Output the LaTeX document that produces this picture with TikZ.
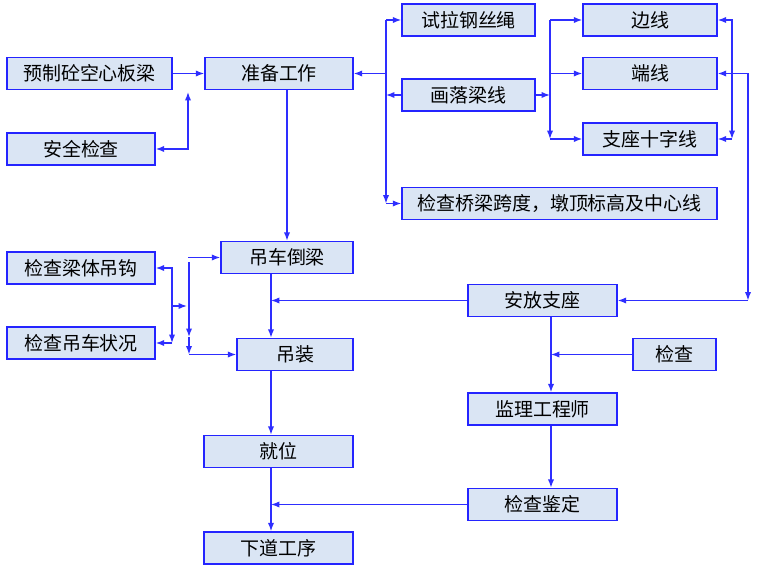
\documentclass[tikz,border=0pt]{standalone}
\usepackage{fontspec}
\newfontfamily\cjk{Noto Sans CJK SC}
\usetikzlibrary{arrows.meta}
\definecolor{boxfill}{HTML}{DAE5F4}
\definecolor{boxline}{HTML}{2424FF}
\definecolor{flowline}{HTML}{2E2EFF}

\begin{document}
\begin{tikzpicture}[x=0.025cm, y=-0.025cm, >={Latex[length=6pt,width=4.5pt]}]
        \tikzstyle{flow_box}  = [shape = rectangle, draw = boxline, fill = boxfill, line width=1pt,
                                 minimum height=8mm, inner sep=0pt, font=\cjk\fontsize{13.5}{16}\selectfont]
        \tikzstyle{flow_line} = [color = flowline, line width=1pt]

        \useasboundingbox (0,0) rectangle (760,570);

        % left column
        \node[flow_box, minimum width=41.25mm] at ( 89.5,  73.5) (yz) {预制砼空心板梁};
        \node[flow_box, minimum width=37mm]    at ( 81.0, 149.0) (aq) {安全检查};
        \node[flow_box, minimum width=37mm]    at ( 81.0, 268.0) (lg) {检查梁体吊钩};
        \node[flow_box, minimum width=37mm]    at ( 81.0, 343.0) (dc) {检查吊车状况};

        % main column
        \node[flow_box, minimum width=37mm]    at (279.0,  73.5) (zb) {准备工作};
        \node[flow_box, minimum width=33mm]    at (287.0, 257.5) (dl) {吊车倒梁};
        \node[flow_box, minimum width=29mm]    at (295.0, 354.5) (dz) {吊装};
        \node[flow_box, minimum width=37.25mm] at (278.5, 451.5) (jw) {就位};
        \node[flow_box, minimum width=37.25mm] at (278.5, 548.0) (xd) {下道工序};

        % preparation branch
        \node[flow_box, minimum width=33.25mm] at (468.5,  20.0) (sl) {试拉钢丝绳};
        \node[flow_box, minimum width=33.25mm] at (468.5,  95.0) (hl) {画落梁线};
        \node[flow_box, minimum width=78.75mm] at (559.5, 203.5) (jq) {检查桥梁跨度，墩顶标高及中心线};
        \node[flow_box, minimum width=33.5mm]  at (650.0,  20.0) (bx) {边线};
        \node[flow_box, minimum width=33.5mm]  at (650.0,  73.5) (dx) {端线};
        \node[flow_box, minimum width=33.5mm]  at (650.0, 139.0) (zz) {支座十字线};

        % bearing branch
        \node[flow_box, minimum width=37.25mm] at (542.5, 300.5) (af) {安放支座};
        \node[flow_box, minimum width=20.75mm] at (674.5, 354.5) (jc) {检查};
        \node[flow_box, minimum width=37.25mm] at (542.5, 409.0) (jl) {监理工程师};
        \node[flow_box, minimum width=37.25mm] at (542.5, 504.5) (jd) {检查鉴定};

        % bus points
        \coordinate (up_aq)  at (188,  92);
        \coordinate (bus1_t) at (386,  20);
        \coordinate (bus1_b) at (386, 203.5);
        \coordinate (bus2_t) at (550,  20);
        \coordinate (bus2_b) at (550, 139);
        \coordinate (rb_zz)  at (732, 139);
        \coordinate (rb_af)  at (748, 300.5);
        \coordinate (main_x) at (271,   0);
        \coordinate (af_x)   at (551,   0);
        \coordinate (lb_dc)  at (172, 343);
        \coordinate (lb_mid) at (172, 306);
        \coordinate (lv_mid) at (187, 306);
        \coordinate (lv_t)   at (189, 262);
        \coordinate (lv_m)   at (189, 337);
        \coordinate (lv_b)   at (189, 354.5);
        \coordinate (lh_t)   at (188, 257.5);

        \path[->, flow_line]
          (yz) edge (zb)
          (bus1_t |- zb.east) edge (zb.east)
          (bus1_t) edge (bus1_b)
          (bus1_t) edge (sl.west)
          (hl.west) edge (hl.west -| bus1_t)
          (bus1_b) edge (jq.west)
          (hl.east) edge (hl.east -| bus2_t)
          (bus2_t) edge (bus2_b)
          (bus2_t) edge (bx.west)
          (bus2_t |- dx.west) edge (dx.west)
          (bus2_b) edge (zz.west)
          (rb_zz) edge (zz.east)
          (rb_af) edge (af.east)
        ;

        \draw[<->, flow_line] (aq.east) -| (up_aq);
        \draw[<->, flow_line] (bx.east) -| (rb_zz);
        \draw[<->, flow_line] (dx.east) -| (rb_af);
        \draw[<->, flow_line] (lg.east) -| (lb_dc);

        \path[->, flow_line]
          (dl.north |- zb.south) edge (dl.north)
          (dl.south -| main_x) edge (dz.north -| main_x)
          (dz.south -| main_x) edge (jw.north -| main_x)
          (jw.south -| main_x) edge (xd.north -| main_x)
          (af.west) edge (af.west -| main_x)
          (jd.west) edge (jd.west -| main_x)
          (af.south -| af_x) edge (jl.north -| af_x)
          (jl.south -| af_x) edge (jd.north -| af_x)
          (jc.west) edge (jc.west -| af_x)
          (lb_dc) edge (dc.east)
          (lb_mid) edge (lv_mid)
          (lh_t) edge (dl.west)
          (lv_t) edge (lv_m)
          (lv_m) edge (lv_b)
          (lv_b) edge (dz.west)
        ;
      \end{tikzpicture}
\end{document}
